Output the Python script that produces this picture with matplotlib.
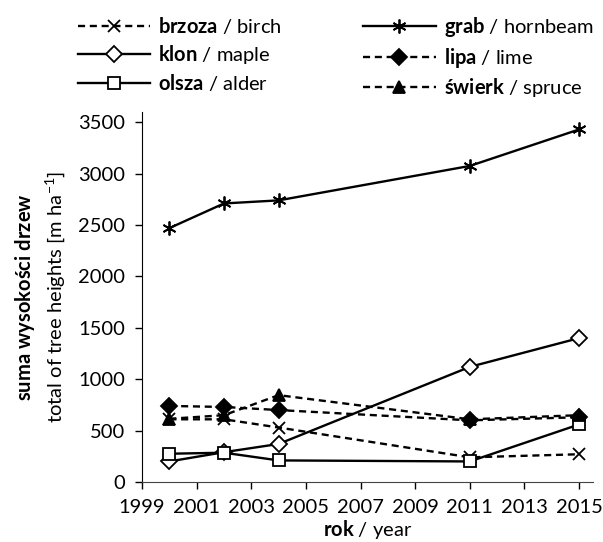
import numpy as np
import matplotlib
matplotlib.use("Agg")
import matplotlib.pyplot as plt

plt.rcParams['font.family'] = ['Lato', 'DejaVu Sans']
plt.rcParams['mathtext.fontset'] = 'custom'
plt.rcParams['mathtext.rm'] = 'Lato'
plt.rcParams['mathtext.bf'] = 'Lato:bold'
plt.rcParams['mathtext.it'] = 'Lato:italic'

# Data
years = [2000, 2002, 2004, 2011, 2015]
brzoza = [610, 610, 530, 240, 270]
grab = [2470, 2710, 2740, 3075, 3430]
klon = [200, 290, 370, 1120, 1400]
lipa = [740, 730, 700, 600, 630]
olsza = [275, 285, 210, 200, 560]
swierk = [615, 650, 845, 610, 650]

names_pl = ["brzoza", "grab", "klon", "lipa", "olsza", "świerk"]
names_en = ["birch", "hornbeam", "maple", "lime", "alder", "spruce"]
xticks = list(range(1999, 2016, 2))
yticks = list(range(0, 3501, 500))

fs = 14.5
lfs = 14.5

# ================ Plot =================== #
fig = plt.figure(figsize=(6.03, 5.42), dpi=100)
ax = fig.add_axes([0.2355, 0.1107, 0.7475, 0.6827])

series = [brzoza, grab, klon, lipa, olsza, swierk]
styles = [
    dict(ls="--", marker="x", mfc="black", ms=8),
    dict(ls="-", marker=(6, 2, 0), mfc="black", ms=10),
    dict(ls="-", marker="D", mfc="white", ms=8),
    dict(ls="--", marker="D", mfc="black", ms=8),
    dict(ls="-", marker="s", mfc="white", ms=9),
    dict(ls="--", marker="^", mfc="black", ms=9),
]

lines = []
for vals, st, pl, en in zip(series, styles, names_pl, names_en):
    ln, = ax.plot(years, vals, color="black", lw=1.7, mec="black", mew=1.3,
                  label=r"$\bf{" + pl + "}$ / " + en, **st)
    if st["ls"] == "--":
        ln.set_dashes((3, 2))
    lines.append(ln)

ax.set_xlim(1999, 2015.5)
ax.set_ylim(0, 3600)
ax.set_xticks(xticks)
ax.set_yticks(yticks)
ax.tick_params(direction="out", length=5, width=1, pad=7, labelsize=fs, colors="black")
ax.spines["top"].set_visible(False)
ax.spines["right"].set_visible(False)
ax.spines["bottom"].set_color("#444444")

ax.set_xlabel(r"$\bf{rok}$ / year", fontsize=fs, labelpad=2)
ax.set_ylabel(r"$\bf{suma\ wysokości\ drzew}$" + "\n" + r"total of tree heights [m ha$^{-1}$]",
              fontsize=fs, labelpad=8, linespacing=1.35)

# legend: two separate columns
left = [0, 2, 4]
right = [1, 3, 5]
leg_kw = dict(loc="upper left", frameon=False, fontsize=lfs, handlelength=3.6,
              handletextpad=0.4, labelspacing=0.32, borderaxespad=0, borderpad=0)
leg1 = fig.legend([lines[i] for i in left], [lines[i].get_label() for i in left],
                  bbox_to_anchor=(0.129, 0.972), **leg_kw)
leg2 = fig.legend([lines[i] for i in right], [lines[i].get_label() for i in right],
                  bbox_to_anchor=(0.602, 0.972), **leg_kw)

plt.savefig("out.png", dpi=100)
